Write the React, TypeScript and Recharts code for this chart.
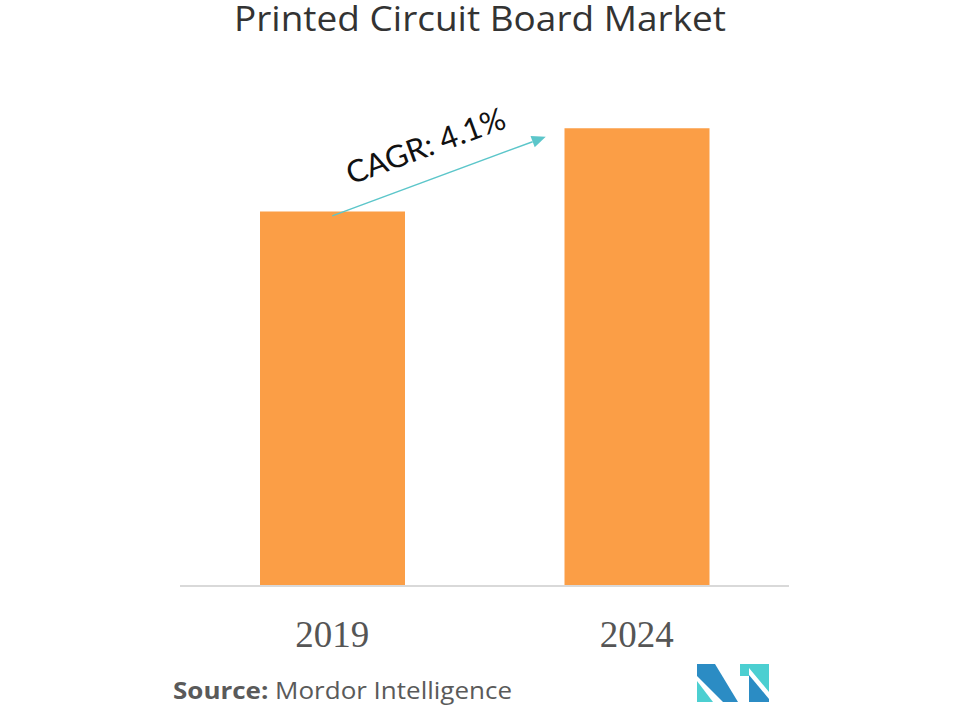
import React from "react";
import { BarChart, Bar, XAxis, YAxis, ReferenceLine } from "recharts";

const categories = ["2019", "2024"];
const marketValues = [100, 122.2];
const cagrLabel = "CAGR: 4.1%";
const cagrStart = { x: "2019", y: 98.8 };
const cagrEnd = { x: "2024", y: 119.9 };
const chartTitle = "Printed Circuit Board Market";

const data = categories.map((c, i) => ({ year: c, value: marketValues[i] }));

const BAR_COLOR = "#fb9e46";
const ARROW_COLOR = "#5cc6ca";

const Tick = (props: any) => {
  const { x, y, payload } = props;
  return (
    <text
      x={x}
      y={y + 61}
      textAnchor="middle"
      fontFamily="'Liberation Serif', serif"
      fontSize={38}
      fill="#555555"
      textLength={74}
      lengthAdjust="spacingAndGlyphs"
    >
      {payload.value}
    </text>
  );
};

const CagrShape = (props: any) => {
  const { x1, y1, x2, y2 } = props;
  const ex = x2 - 91;
  const ey = y2;
  const dx = ex - x1;
  const dy = ey - y1;
  const len = Math.sqrt(dx * dx + dy * dy);
  const ux = dx / len;
  const uy = dy / len;
  const headLen = 14;
  const headW = 6;
  const bx = ex - ux * headLen;
  const by = ey - uy * headLen;
  const px = -uy;
  const py = ux;
  const cx = x1 + 93;
  const cy = y1 - 71;
  return (
    <g>
      <line x1={x1} y1={y1} x2={bx} y2={by} stroke={ARROW_COLOR} strokeWidth={1.5} />
      <polygon
        points={`${ex},${ey} ${bx + px * headW},${by + py * headW} ${bx - px * headW},${by - py * headW}`}
        fill={ARROW_COLOR}
      />
      <text
        x={cx}
        y={cy}
        textAnchor="middle"
        dominantBaseline="central"
        fontFamily="Lato, 'Open Sans', sans-serif"
        fontSize={31}
        fill="#111111"
        transform={`rotate(-20 ${cx} ${cy})`}
      >
        {cagrLabel}
      </text>
    </g>
  );
};

export default function App() {
  return (
    <div style={{ position: "absolute", left: 0, top: 0, width: 960, height: 707, background: "#ffffff" }}>
      <BarChart
        width={960}
        height={707}
        data={data}
        margin={{ top: 99, right: 171, bottom: 0, left: 180 }}
        barCategoryGap={0}
      >
        <YAxis hide domain={[0, 130]} />
        <XAxis
          dataKey="year"
          axisLine={{ stroke: "#d9d9d9", strokeWidth: 2 }}
          tickLine={false}
          tickSize={0}
          tickMargin={0}
          tick={<Tick />}
          height={121}
          interval={0}
        />
        <Bar dataKey="value" fill={BAR_COLOR} barSize={145} isAnimationActive={false} />
        <ReferenceLine
          segment={[cagrStart, cagrEnd]}
          ifOverflow="visible"
          shape={(p: any) => <CagrShape {...p} />}
        />
      </BarChart>
      <svg
        width={960}
        height={707}
        style={{ position: "absolute", left: 0, top: 0, pointerEvents: "none" }}
      >
        <text
          x={480}
          y={31}
          textAnchor="middle"
          fontFamily="'Open Sans', Lato, sans-serif"
          fontSize={34}
          fill="#333333"
          textLength={492}
          lengthAdjust="spacingAndGlyphs"
        >
          {chartTitle}
        </text>
        <text
          x={173}
          y={699}
          fontFamily="'Open Sans', Lato, sans-serif"
          fontSize={24}
          fill="#5a5a5a"
          textLength={339}
          lengthAdjust="spacingAndGlyphs"
        >
          <tspan fontWeight="bold">Source:</tspan>
          <tspan> Mordor Intelligence</tspan>
        </text>
        <g transform="translate(697,664)">
          <polygon points="0,0 18,0 41,38 26,38 0,12" fill="#2b8cc4" />
          <polygon points="0,17 0,38 16,38" fill="#4ccfd1" />
          <polygon points="43,0 72,0 72,28 52,4 52,12 43,12" fill="#4ccfd1" />
          <polygon points="52,11 72,35 72,38 52,38" fill="#2b8cc4" />
        </g>
      </svg>
    </div>
  );
}
